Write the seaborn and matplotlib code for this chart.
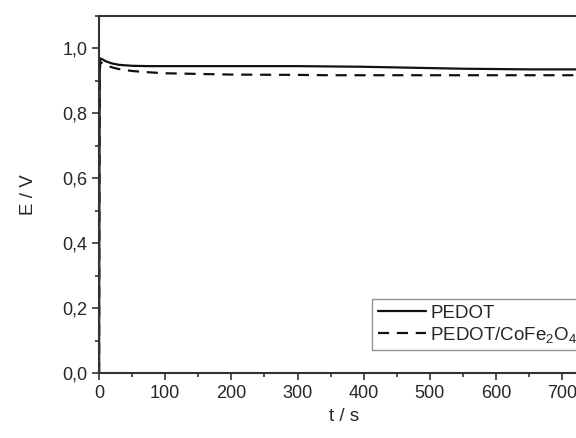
import numpy as np
import pandas as pd
import matplotlib
matplotlib.use("Agg")
import matplotlib.pyplot as plt
from matplotlib.ticker import MultipleLocator, FuncFormatter
import seaborn as sns

# Open-circuit potential transients
t_s = [0, 0.5, 1, 2, 5, 10, 20, 30, 50, 75, 100, 150, 200, 300, 350, 400, 450, 500, 550, 600, 650, 700, 740]
e_pedot = [0.0, 0.60, 0.95, 0.969, 0.966, 0.960, 0.953, 0.949, 0.946, 0.945, 0.945, 0.945, 0.945, 0.945,
           0.944, 0.943, 0.941, 0.939, 0.937, 0.936, 0.935, 0.935, 0.935]
e_composite = [0.0, 0.55, 0.93, 0.957, 0.954, 0.948, 0.941, 0.936, 0.930, 0.926, 0.923, 0.921, 0.919, 0.918,
               0.917, 0.917, 0.917, 0.917, 0.917, 0.917, 0.917, 0.917, 0.917]
series_names = ["PEDOT", "PEDOT/CoFe$_2$O$_4$"]

df = pd.concat([
    pd.DataFrame({"t": t_s, "E": e_pedot, "sample": series_names[0]}),
    pd.DataFrame({"t": t_s, "E": e_composite, "sample": series_names[1]}),
])

sns.set_style("ticks")
plt.rcParams["font.family"] = ["Liberation Sans", "DejaVu Sans"]
plt.rcParams["mathtext.fontset"] = "custom"
plt.rcParams["mathtext.rm"] = "Liberation Sans"
plt.rcParams["mathtext.it"] = "Liberation Sans"

fig = plt.figure(figsize=(5.76, 4.38), dpi=100)
ax = fig.add_axes([0.172, 0.148, 0.85, 0.816])

sns.lineplot(data=df, x="t", y="E", hue="sample", style="sample",
             palette=["#111111", "#111111"],
             dashes={series_names[0]: "", series_names[1]: (5, 3.5)},
             linewidth=1.6, ax=ax, legend=True)

ax.set_xlim(0, 740)
ax.set_ylim(0, 1.1)
ax.xaxis.set_major_locator(MultipleLocator(100))
ax.xaxis.set_minor_locator(MultipleLocator(50))
ax.yaxis.set_major_locator(MultipleLocator(0.2))
ax.yaxis.set_minor_locator(MultipleLocator(0.1))
ax.yaxis.set_major_formatter(FuncFormatter(lambda v, p: f"{v:.1f}".replace(".", ",")))

ax.tick_params(which="major", direction="out", length=5, width=1.2, labelsize=13, color="#333333")
ax.tick_params(which="minor", direction="out", length=3, width=1.2, color="#333333")
for side in ["left", "bottom", "top", "right"]:
    ax.spines[side].set_linewidth(1.5)
    ax.spines[side].set_color("#333333")

ax.set_xlabel("t / s", fontsize=13.5, labelpad=4)
ax.set_ylabel("E / V", fontsize=13.5, labelpad=18)

old = ax.get_legend()
handles = old.legend_handles
old.remove()
leg = fig.legend(handles=handles, labels=series_names, loc="upper left",
                 bbox_to_anchor=(372 / 576, 1 - 299 / 438), bbox_transform=fig.transFigure,
                 fontsize=13.5, frameon=True, fancybox=False, handlelength=2.6,
                 handletextpad=0.2, borderpad=0.3, labelspacing=0.15, borderaxespad=0)
leg.get_frame().set_edgecolor("#777777")
leg.get_frame().set_linewidth(1.0)
for h in leg.get_lines():
    h.set_color("#111111")
    h.set_linewidth(1.6)

fig.savefig("out.png", dpi=100)
